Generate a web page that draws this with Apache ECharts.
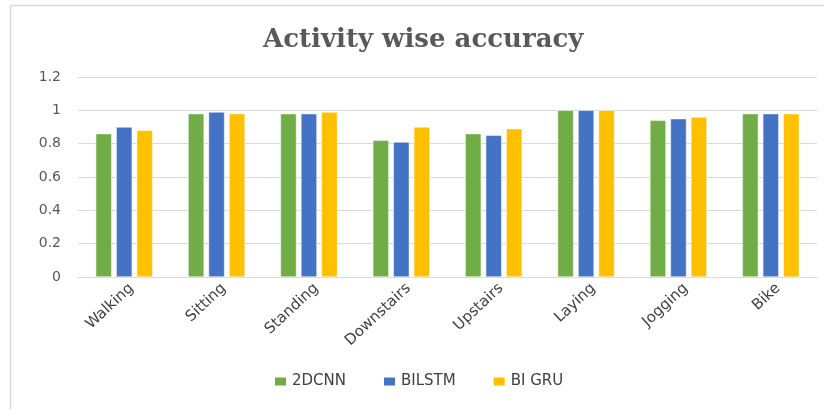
<!DOCTYPE html>
<html>
<head>
<meta charset="utf-8">
<script src="https://cdn.jsdelivr.net/npm/echarts@6/dist/echarts.min.js"></script>
<style>
    html, body { margin: 0; padding: 0; background: #fff; }
    #chart { width: 824px; height: 409px; }
</style>
</head>
<body>
<div id="chart"></div>
<script>
    // activity categories and per-model accuracy
    var activities = ['Walking', 'Sitting', 'Standing', 'Downstairs', 'Upstairs', 'Laying', 'Jogging', 'Bike'];
    var cnn2d = [0.86, 0.98, 0.98, 0.82, 0.86, 1.0, 0.94, 0.98];
    var bilstm = [0.90, 0.99, 0.98, 0.81, 0.85, 1.0, 0.95, 0.98];
    var bigru = [0.88, 0.98, 0.99, 0.90, 0.89, 1.0, 0.96, 0.98];
    var seriesNames = ['2DCNN', 'BILSTM', 'BI GRU'];
    var colors = ['#70AD47', '#4472C4', '#FFC000'];

    var myChart = echarts.init(document.getElementById('chart'));

    function bar(name, data, color) {
        return {
            name: name,
            type: 'bar',
            data: data,
            barWidth: 16,
            barGap: '28%',
            itemStyle: { color: color, borderColor: '#fff', borderWidth: 0.5 }
        };
    }

    myChart.setOption({
        animation: false,
        // frame edge lines (top and left) as in the source image
        graphic: [
            { type: 'line', shape: { x1: 10.5, y1: 5.5, x2: 824, y2: 5.5 }, style: { stroke: '#d9d9d9', lineWidth: 1.5 } },
            { type: 'line', shape: { x1: 10.5, y1: 5.5, x2: 10.5, y2: 409 }, style: { stroke: '#d9d9d9', lineWidth: 1.5 } }
        ],
        title: {
            text: 'Activity wise accuracy',
            left: 258,
            top: 22,
            textStyle: {
                fontFamily: 'DejaVu Serif',
                fontSize: 26,
                fontWeight: 'bold',
                color: '#595959'
            }
        },
        legend: {
            data: seriesNames,
            top: 369,
            left: 268,
            itemWidth: 13,
            itemHeight: 10,
            itemGap: 36,
            icon: 'rect',
            textStyle: { fontFamily: 'DejaVu Sans', fontSize: 15, color: '#404040' }
        },
        grid: { left: 78, right: 7, top: 77, bottom: 132 },
        xAxis: {
            type: 'category',
            data: activities,
            axisLine: { lineStyle: { color: '#d9d9d9' } },
            axisTick: { show: false },
            axisLabel: {
                rotate: 43,
                margin: 16,
                padding: [0, -10, 0, 0],
                fontFamily: 'DejaVu Sans',
                fontSize: 15,
                color: '#404040'
            }
        },
        yAxis: {
            type: 'value',
            min: 0,
            max: 1.2,
            interval: 0.2,
            axisLine: { show: false },
            axisTick: { show: false },
            splitLine: { lineStyle: { color: '#d9d9d9', width: 1 } },
            axisLabel: {
                margin: 17,
                fontFamily: 'DejaVu Sans',
                fontSize: 14,
                color: '#595959',
                formatter: function (v) { return String(Math.round(v * 10) / 10); }
            }
        },
        series: [
            bar(seriesNames[0], cnn2d, colors[0]),
            bar(seriesNames[1], bilstm, colors[1]),
            bar(seriesNames[2], bigru, colors[2])
        ]
    });
</script>
</body>
</html>
